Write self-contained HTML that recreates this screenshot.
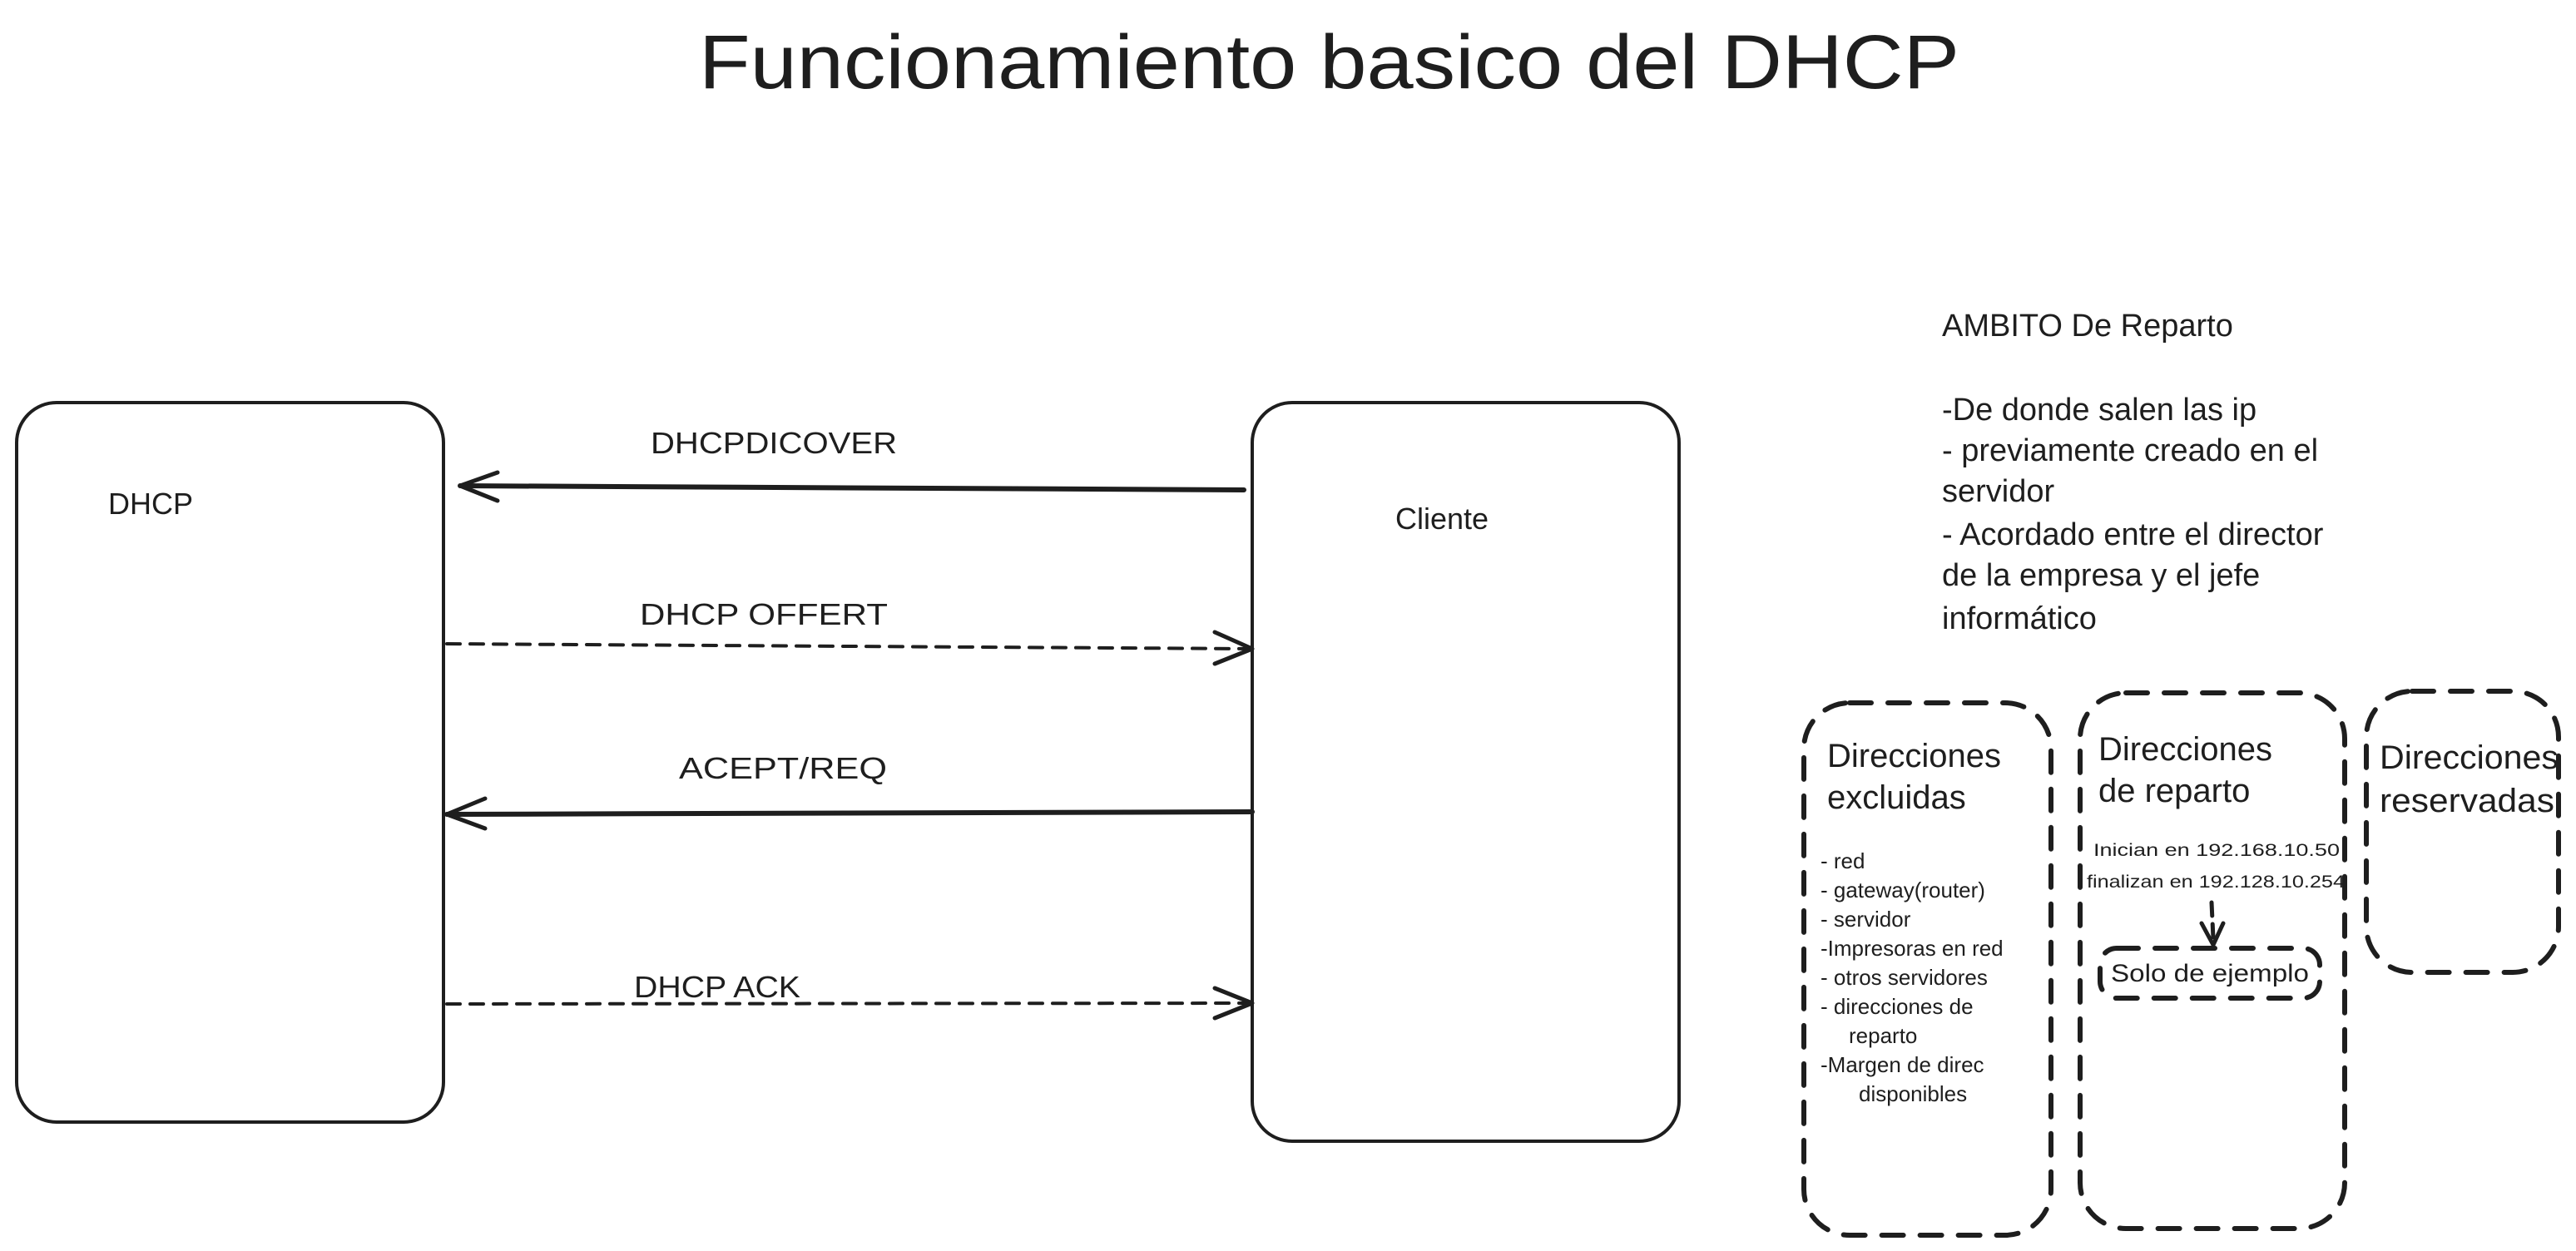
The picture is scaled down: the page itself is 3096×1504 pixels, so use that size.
<!DOCTYPE html>
<html><head><meta charset="utf-8"><style>
html,body{margin:0;padding:0;background:#fff;}
svg{display:block}
text{font-family:"Liberation Sans",sans-serif;fill:#1e1e1e;}
</style></head><body>
<svg width="3096" height="1504" viewBox="0 0 3096 1504" xmlns="http://www.w3.org/2000/svg">
<rect width="3096" height="1504" fill="#fff"/>
<text x="840" y="106" font-size="92" textLength="1515" lengthAdjust="spacingAndGlyphs">Funcionamiento basico del DHCP</text>

<g fill="none" stroke="#1e1e1e" stroke-width="4" stroke-linecap="round" stroke-linejoin="round">
<rect x="20" y="484" width="513" height="865" rx="48"/>
<rect x="1505" y="484" width="513" height="888" rx="48"/>
<path d="M1495 589 L553 584" stroke-width="6"/>
<path d="M598 568 L553 584 L598 602" stroke-width="5"/>
<path d="M537 774 L1505 780" stroke-dasharray="16 12"/>
<path d="M1460 760 L1505 780 L1460 798" stroke-width="5"/>
<path d="M1505 976 L537 979" stroke-width="6"/>
<path d="M583 960 L537 979 L583 996" stroke-width="5"/>
<path d="M537 1207 L1505 1206" stroke-dasharray="16 12"/>
<path d="M1460 1188 L1505 1206 L1460 1224" stroke-width="5"/>
<g stroke-width="6" stroke-dasharray="26 20">
<rect x="2168" y="845" width="297" height="640" rx="55"/>
<rect x="2500" y="833" width="318" height="644" rx="55"/>
<rect x="2844" y="831" width="231" height="338" rx="55"/>
<rect x="2524" y="1140" width="264" height="60" rx="20"/>
</g>
<path d="M2658 1085 L2660 1128" stroke-width="5" stroke-dasharray="16 10"/>
<path d="M2646 1110 L2660 1136 L2672 1110" stroke-width="5"/>
</g>

<g font-size="36">
<text x="130" y="618">DHCP</text>
<text x="1677" y="636">Cliente</text>
<text x="782" y="545" textLength="296" lengthAdjust="spacingAndGlyphs">DHCPDICOVER</text>
<text x="769" y="751" textLength="298" lengthAdjust="spacingAndGlyphs">DHCP OFFERT</text>
<text x="816" y="936" textLength="250" lengthAdjust="spacingAndGlyphs">ACEPT/REQ</text>
<text x="762" y="1199" textLength="200" lengthAdjust="spacingAndGlyphs">DHCP ACK</text>
</g>

<g font-size="38">
<text x="2334" y="404">AMBITO De Reparto</text>
<text x="2334" y="505">-De donde salen las ip</text>
<text x="2334" y="554">- previamente creado en el</text>
<text x="2334" y="603">servidor</text>
<text x="2334" y="655">- Acordado entre el director</text>
<text x="2334" y="704">de la empresa y el jefe</text>
<text x="2334" y="756">informático</text>
</g>

<g font-size="40">
<text x="2196" y="922">Direcciones</text>
<text x="2196" y="972">excluidas</text>
<text x="2522" y="914">Direcciones</text>
<text x="2522" y="964">de reparto</text>
<text x="2860" y="924" textLength="215" lengthAdjust="spacingAndGlyphs">Direcciones</text>
<text x="2860" y="976" textLength="210" lengthAdjust="spacingAndGlyphs">reservadas</text>
</g>

<g font-size="26">
<text x="2188" y="1044">- red</text>
<text x="2188" y="1079">- gateway(router)</text>
<text x="2188" y="1114">- servidor</text>
<text x="2188" y="1149">-Impresoras en red</text>
<text x="2188" y="1184">- otros servidores</text>
<text x="2188" y="1219">- direcciones de</text>
<text x="2222" y="1254">reparto</text>
<text x="2188" y="1289">-Margen de direc</text>
<text x="2234" y="1324">disponibles</text>
</g>
<g font-size="21">
<text x="2516" y="1029" textLength="296" lengthAdjust="spacingAndGlyphs">Inician en 192.168.10.50</text>
<text x="2508" y="1067" textLength="310" lengthAdjust="spacingAndGlyphs">finalizan en 192.128.10.254</text>
</g>
<text x="2537" y="1180" font-size="30" textLength="238" lengthAdjust="spacingAndGlyphs">Solo de ejemplo</text>
</svg>
</body></html>
